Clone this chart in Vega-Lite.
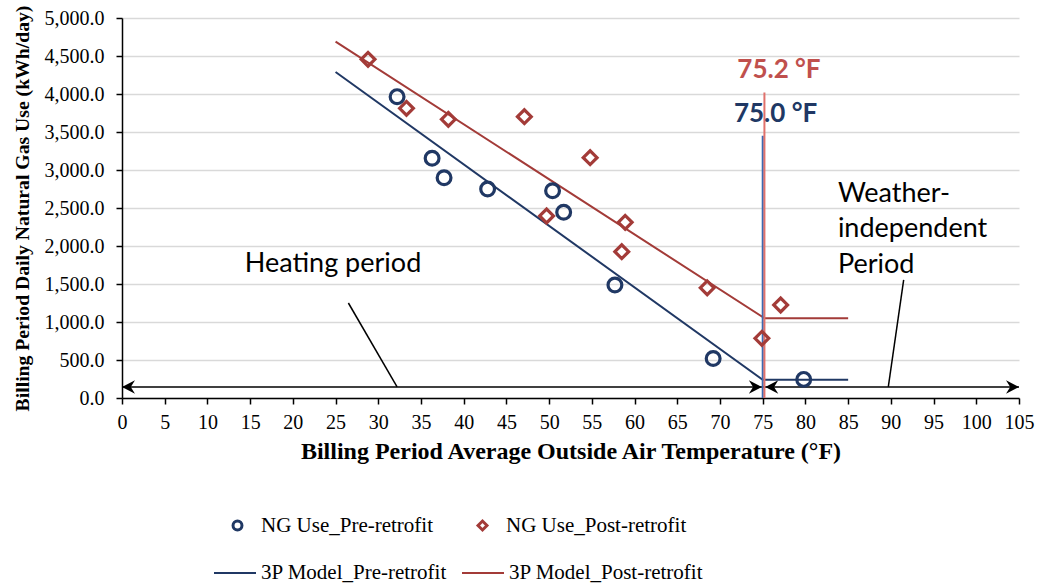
{
  "$schema": "https://vega.github.io/schema/vega-lite/v6.json",
  "width": 897,
  "height": 380,
  "autosize": "none",
  "padding": {"left": 122, "top": 18, "right": 18, "bottom": 188},
  "background": "white",
  "config": {
    "view": {"stroke": null}
  },
  "datasets": {
    "points": [
      {"series": "NG Use_Pre-retrofit", "temp": 32.2, "use": 3965},
      {"series": "NG Use_Pre-retrofit", "temp": 36.3, "use": 3154},
      {"series": "NG Use_Pre-retrofit", "temp": 37.7, "use": 2899},
      {"series": "NG Use_Pre-retrofit", "temp": 42.8, "use": 2750},
      {"series": "NG Use_Pre-retrofit", "temp": 50.4, "use": 2728},
      {"series": "NG Use_Pre-retrofit", "temp": 51.7, "use": 2443},
      {"series": "NG Use_Pre-retrofit", "temp": 57.7, "use": 1487},
      {"series": "NG Use_Pre-retrofit", "temp": 69.2, "use": 520},
      {"series": "NG Use_Pre-retrofit", "temp": 79.8, "use": 245},
      {"series": "NG Use_Post-retrofit", "temp": 28.8, "use": 4456},
      {"series": "NG Use_Post-retrofit", "temp": 33.3, "use": 3811},
      {"series": "NG Use_Post-retrofit", "temp": 38.2, "use": 3667},
      {"series": "NG Use_Post-retrofit", "temp": 47.1, "use": 3702},
      {"series": "NG Use_Post-retrofit", "temp": 54.8, "use": 3162},
      {"series": "NG Use_Post-retrofit", "temp": 49.7, "use": 2395},
      {"series": "NG Use_Post-retrofit", "temp": 58.9, "use": 2311},
      {"series": "NG Use_Post-retrofit", "temp": 58.5, "use": 1925},
      {"series": "NG Use_Post-retrofit", "temp": 68.5, "use": 1450},
      {"series": "NG Use_Post-retrofit", "temp": 74.9, "use": 785},
      {"series": "NG Use_Post-retrofit", "temp": 77.1, "use": 1224}
    ],
    "models": [
      {"model": "3P Model_Pre-retrofit", "temp": 25, "use": 4290},
      {"model": "3P Model_Pre-retrofit", "temp": 75, "use": 240},
      {"model": "3P Model_Pre-retrofit", "temp": 85, "use": 240},
      {"model": "3P Model_Post-retrofit", "temp": 25, "use": 4690},
      {"model": "3P Model_Post-retrofit", "temp": 75.2, "use": 1050},
      {"model": "3P Model_Post-retrofit", "temp": 85, "use": 1050}
    ],
    "vlines": [
      {"name": "pre", "temp": 75.0, "use": 0, "use2": 3450},
      {"name": "post", "temp": 75.2, "use": 0, "use2": 4020}
    ],
    "arrows": [
      {"temp": 0, "temp2": 75, "use": 145},
      {"temp": 75, "temp2": 105, "use": 145}
    ],
    "heads": [
      {"dir": "left", "temp": 0, "use": 145},
      {"dir": "right", "temp": 74.9, "use": 145},
      {"dir": "left", "temp": 75.3, "use": 145},
      {"dir": "right", "temp": 105, "use": 145}
    ],
    "leaders": [
      {"temp": 26.5, "use": 1250, "temp2": 32.2, "use2": 145},
      {"temp": 91.5, "use": 1553, "temp2": 89.7, "use2": 145}
    ],
    "notes": [
      {"label": "Heating period", "temp": 24.7, "use": 1660},
      {"label": "Weather-", "temp": 83.8, "use": 2583},
      {"label": "independent", "temp": 83.8, "use": 2114},
      {"label": "Period", "temp": 83.8, "use": 1649}
    ],
    "bp": [
      {"name": "post", "label": "75.2 °F", "temp": 76.9, "use": 4210},
      {"name": "pre", "label": "75.0 °F", "temp": 76.5, "use": 3636}
    ]
  },
  "encoding": {
    "x": {
      "field": "temp",
      "type": "quantitative",
      "scale": {"domain": [0, 105], "nice": false, "zero": false},
      "axis": {
        "values": [0, 5, 10, 15, 20, 25, 30, 35, 40, 45, 50, 55, 60, 65, 70, 75, 80, 85, 90, 95, 100, 105],
        "grid": false,
        "labelOverlap": false,
        "labelFlush": false,
        "labelFont": "Liberation Serif",
        "labelFontSize": 20,
        "labelColor": "black",
        "labelPadding": 8,
        "domainColor": "black",
        "domainWidth": 1.5,
        "tickColor": "black",
        "tickWidth": 1.5,
        "tickSize": 6,
        "title": "Billing Period Average Outside Air Temperature (°F)",
        "titleFont": "Liberation Serif",
        "titleFontSize": 24,
        "titleFontWeight": "bold",
        "titleColor": "black",
        "titlePadding": 7
      }
    },
    "y": {
      "field": "use",
      "type": "quantitative",
      "scale": {"domain": [0, 5000], "nice": false},
      "axis": {
        "values": [0, 500, 1000, 1500, 2000, 2500, 3000, 3500, 4000, 4500, 5000],
        "format": ",.1f",
        "grid": true,
        "gridColor": "#d9d9d9",
        "gridWidth": 1.5,
        "labelOverlap": false,
        "labelFlush": false,
        "labelFont": "Liberation Serif",
        "labelFontSize": 20,
        "labelColor": "black",
        "labelPadding": 12,
        "domainColor": "black",
        "domainWidth": 1.5,
        "tickColor": "black",
        "tickWidth": 1.5,
        "tickSize": 6,
        "title": "Billing Period Daily Natural Gas Use  (kWh/day)",
        "titleFont": "Liberation Serif",
        "titleFontSize": 19.7,
        "titleFontWeight": "bold",
        "titleColor": "black",
        "titlePadding": 12
      }
    }
  },
  "layer": [
    {
      "data": {"name": "arrows"},
      "mark": {"type": "rule", "color": "black", "strokeWidth": 1.5},
      "encoding": {"x2": {"field": "temp2"}}
    },
    {
      "data": {"name": "heads"},
      "transform": [{"filter": "datum.dir === 'left'"}],
      "mark": {"type": "point", "shape": "M0,0L2,-1.05L1.35,0L2,1.05Z", "filled": true, "color": "black", "opacity": 1, "size": 169}
    },
    {
      "data": {"name": "heads"},
      "transform": [{"filter": "datum.dir === 'right'"}],
      "mark": {"type": "point", "shape": "M0,0L-2,-1.05L-1.35,0L-2,1.05Z", "filled": true, "color": "black", "opacity": 1, "size": 169}
    },
    {
      "data": {"name": "leaders"},
      "mark": {"type": "rule", "color": "black", "strokeWidth": 1.5},
      "encoding": {"x2": {"field": "temp2"}, "y2": {"field": "use2"}}
    },
    {
      "data": {"name": "models"},
      "mark": {"type": "line", "strokeWidth": 2},
      "encoding": {
        "color": {
          "field": "model",
          "type": "nominal",
          "sort": null,
          "scale": {"domain": ["3P Model_Pre-retrofit", "3P Model_Post-retrofit"], "range": ["#203864", "#a33b38"]},
          "legend": {
            "orient": "none",
            "direction": "horizontal",
            "legendX": 91,
            "legendY": 533,
            "title": null,
            "symbolType": "stroke",
            "symbolSize": 1764,
            "symbolStrokeWidth": 2,
            "labelFont": "Liberation Serif",
            "labelFontSize": 21,
            "labelColor": "black",
            "labelLimit": 400,
            "labelOffset": 4,
            "columnPadding": 10,
            "padding": 0
          }
        }
      }
    },
    {
      "data": {"name": "vlines"},
      "transform": [{"filter": "datum.name === 'pre'"}],
      "mark": {"type": "rule", "color": "#3d69b0", "strokeWidth": 2},
      "encoding": {"y2": {"field": "use2"}}
    },
    {
      "data": {"name": "vlines"},
      "transform": [{"filter": "datum.name === 'post'"}],
      "mark": {"type": "rule", "color": "#e0716c", "strokeWidth": 2},
      "encoding": {"y2": {"field": "use2"}}
    },
    {
      "data": {"name": "points"},
      "mark": {"type": "point", "filled": false, "strokeWidth": 3.2, "size": 190, "opacity": 1},
      "encoding": {
        "color": {
          "field": "series",
          "type": "nominal",
          "sort": null,
          "scale": {"domain": ["NG Use_Pre-retrofit", "NG Use_Post-retrofit"], "range": ["#203864", "#a33b38"]},
          "legend": {
            "orient": "none",
            "direction": "horizontal",
            "legendX": 105,
            "legendY": 497,
            "title": null,
            "symbolSize": 80,
            "symbolStrokeWidth": 3,
            "labelFont": "Liberation Serif",
            "labelFontSize": 21,
            "labelColor": "black",
            "labelLimit": 400,
            "labelOffset": 13,
            "columnPadding": 38,
            "padding": 0
          }
        },
        "shape": {
          "field": "series",
          "type": "nominal",
          "sort": null,
          "scale": {"domain": ["NG Use_Pre-retrofit", "NG Use_Post-retrofit"], "range": ["circle", "diamond"]},
          "legend": {
            "orient": "none",
            "direction": "horizontal",
            "legendX": 105,
            "legendY": 497,
            "title": null,
            "symbolSize": 80,
            "symbolStrokeWidth": 3,
            "labelFont": "Liberation Serif",
            "labelFontSize": 21,
            "labelColor": "black",
            "labelLimit": 400,
            "labelOffset": 13,
            "columnPadding": 38,
            "padding": 0
          }
        }
      }
    },
    {
      "data": {"name": "notes"},
      "transform": [{"filter": "datum.label === 'Heating period'"}],
      "mark": {"type": "text", "font": "Lato", "fontSize": 27, "color": "black", "baseline": "alphabetic", "align": "center"},
      "encoding": {"text": {"field": "label"}}
    },
    {
      "data": {"name": "notes"},
      "transform": [{"filter": "datum.label !== 'Heating period'"}],
      "mark": {"type": "text", "font": "Lato", "fontSize": 27, "color": "black", "baseline": "alphabetic", "align": "left"},
      "encoding": {"text": {"field": "label"}}
    },
    {
      "data": {"name": "bp"},
      "transform": [{"filter": "datum.name === 'post'"}],
      "mark": {"type": "text", "font": "Lato", "fontSize": 26, "fontWeight": "bold", "color": "#c0504d", "baseline": "alphabetic", "align": "center"},
      "encoding": {"text": {"field": "label"}}
    },
    {
      "data": {"name": "bp"},
      "transform": [{"filter": "datum.name === 'pre'"}],
      "mark": {"type": "text", "font": "Lato", "fontSize": 26, "fontWeight": "bold", "color": "#203864", "baseline": "alphabetic", "align": "center"},
      "encoding": {"text": {"field": "label"}}
    }
  ],
  "resolve": {"scale": {"color": "independent", "shape": "independent"}}
}
